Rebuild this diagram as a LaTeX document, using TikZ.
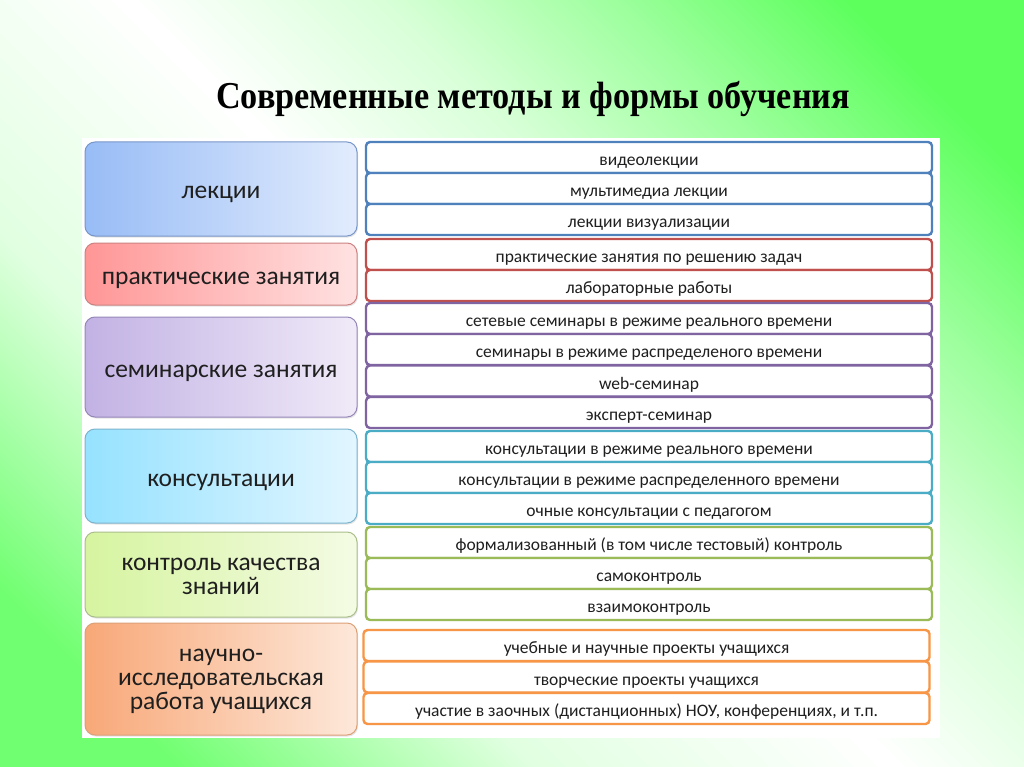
\documentclass[tikz,border=0pt]{standalone}
\usepackage{fontspec}
\setmainfont{Carlito}
\newfontfamily\titlefont[FakeStretch=0.9]{Liberation Serif}
\usetikzlibrary{shadows}

% background and group colours
\definecolor{bgA}{RGB}{112,255,112}
\definecolor{bgB}{RGB}{225,255,225}
\definecolor{bgC}{RGB}{215,255,215}
\definecolor{bgD}{RGB}{160,255,160}
\definecolor{bgE}{RGB}{92,255,92}
\pgfdeclareverticalshading{bgshade}{100bp}{color(0bp)=(bgA); color(25bp)=(bgA); color(37.5bp)=(bgB);
    color(50bp)=(white); color(59bp)=(bgC); color(66.5bp)=(bgD); color(75bp)=(bgE); color(100bp)=(bgE)}
\definecolor{lecL}{RGB}{152,188,246}  \definecolor{lecR}{RGB}{226,236,253}
\definecolor{lecF}{RGB}{120,150,200}  \definecolor{lecD}{RGB}{79,129,189}
\definecolor{praL}{RGB}{255,150,150}  \definecolor{praR}{RGB}{255,226,226}
\definecolor{praF}{RGB}{205,130,130}  \definecolor{praD}{RGB}{192,80,77}
\definecolor{semL}{RGB}{194,178,228}  \definecolor{semR}{RGB}{240,234,248}
\definecolor{semF}{RGB}{150,135,185}  \definecolor{semD}{RGB}{128,100,162}
\definecolor{conL}{RGB}{150,226,255}  \definecolor{conR}{RGB}{226,246,255}
\definecolor{conF}{RGB}{125,180,205}  \definecolor{conD}{RGB}{75,172,198}
\definecolor{konL}{RGB}{214,244,160}  \definecolor{konR}{RGB}{244,251,228}
\definecolor{konF}{RGB}{170,190,140}  \definecolor{konD}{RGB}{155,187,89}
\definecolor{nirL}{RGB}{248,168,120}  \definecolor{nirR}{RGB}{253,232,218}
\definecolor{nirF}{RGB}{220,160,120}  \definecolor{nirD}{RGB}{247,150,70}

\begin{document}
\begin{tikzpicture}[
    x=1pt, y=-1pt,
    group/.style={rectangle, left color=#1L, right color=#1R, draw=#1F, line width=1pt, rounded corners=10pt,
        minimum width=272pt, align=center, text=black!88, font=\fontsize{25.5}{24}\selectfont,
        drop shadow={shadow xshift=1pt, shadow yshift=-1.5pt, opacity=0.2}},
    single/.style={text height=20pt, text depth=0pt},
    item/.style={rectangle, draw=#1D, line width=2.4pt, rounded corners=4pt, fill=white,
        minimum width=566pt, minimum height=31pt, inner sep=0pt, text height=16pt, text depth=0pt,
        text=black!88, font=\fontsize{17.5}{18}\selectfont}
]

    % Background
    \useasboundingbox (0,0) rectangle (1024,767);
    \begin{scope}
        \clip (0,0) rectangle (1024,767);
        \shade[shading=bgshade, shading angle=-45] (0,-128.5) rectangle (1024,895.5);
    \end{scope}
    \fill[white] (82,138) rectangle (940,738);

    % Title
    \node (title) at (533,99) {\titlefont\bfseries\fontsize{38}{40}\selectfont Современные методы и формы обучения};

    % Groups
    \node[group=lec, single, minimum height=94pt] (lectures) at (221,189) {лекции};
    \node[group=pra, single, minimum height=62pt] (practice) at (221,274) {практические занятия};
    \node[group=sem, single, minimum height=100pt] (seminars) at (221,367) {семинарские занятия};
    \node[group=con, single, minimum height=94pt] (consult) at (221,476) {консультации};
    \node[group=kon, minimum height=85pt] (control) at (221,574.5) {\rule{0pt}{16pt}контроль качества\\знаний};
    \node[group=nir, minimum height=112pt] (research) at (221,679) {\rule{0pt}{18pt}научно-\\исследовательская\\работа учащихся};

    % Forms
    \node[item=lec] (lec1) at (649,157.5) {видеолекции};
    \node[item=lec] (lec2) at (649,188.5) {мультимедиа лекции};
    \node[item=lec] (lec3) at (649,219.5) {лекции визуализации};

    \node[item=pra] (pra1) at (649,254.5) {практические занятия по решению задач};
    \node[item=pra] (pra2) at (649,285.5) {лабораторные работы};

    \node[item=sem] (sem1) at (649,318.5) {сетевые семинары в режиме реального времени};
    \node[item=sem] (sem2) at (649,349.5) {семинары в режиме распределеного времени};
    \node[item=sem] (sem3) at (649,381) {web-семинар};
    \node[item=sem] (sem4) at (649,412.5) {эксперт-семинар};

    \node[item=con] (con1) at (649,446.5) {консультации в режиме реального времени};
    \node[item=con] (con2) at (649,477.5) {консультации в режиме распределенного времени};
    \node[item=con] (con3) at (649,508.5) {очные консультации с педагогом};

    \node[item=kon] (kon1) at (649,542.5) {формализованный (в том числе тестовый) контроль};
    \node[item=kon] (kon2) at (649,573.5) {самоконтроль};
    \node[item=kon] (kon3) at (649,604.5) {взаимоконтроль};

    \node[item=nir] (nir1) at (646.5,645.5) {учебные и научные проекты учащихся};
    \node[item=nir] (nir2) at (646.5,677) {творческие проекты учащихся};
    \node[item=nir] (nir3) at (646.5,708.5) {участие в заочных (дистанционных) НОУ, конференциях, и т.п.};

\end{tikzpicture}
\end{document}
